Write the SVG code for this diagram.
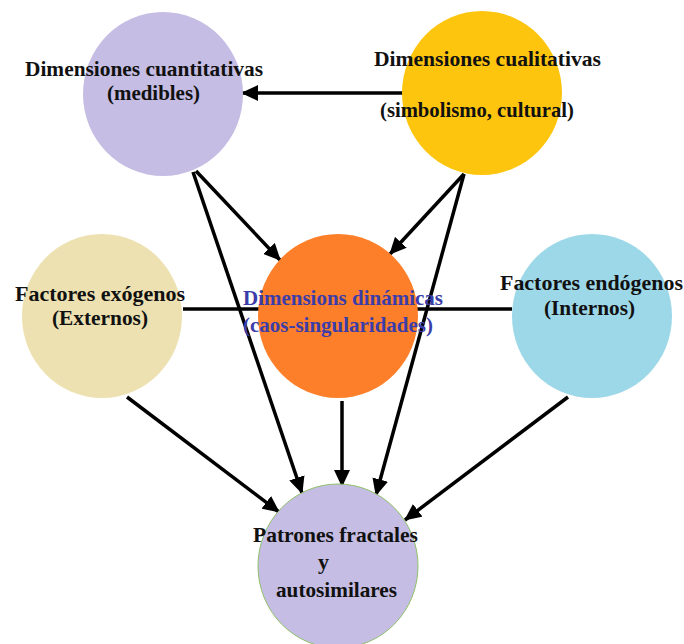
<svg xmlns="http://www.w3.org/2000/svg" width="684" height="644" viewBox="0 0 684 644">
  <style>
    .lbl { font-family: "Liberation Serif", "Times New Roman", serif; font-weight: bold; font-size: 22px; fill: #111; }
    .blue { fill: #3b3da8; }
    .edge { stroke: #000; stroke-width: 3.5; fill: none; }
  </style>
  <defs>
    <marker id="arrow" markerUnits="userSpaceOnUse" markerWidth="18" markerHeight="16" refX="16" refY="8" orient="auto">
      <path d="M0,0 L17,8 L0,16 Z" fill="#000"/>
    </marker>
  </defs>
  <rect width="684" height="644" fill="#fff"/>

  <!-- connectors -->
  <g id="connectors">
    <line class="edge" x1="183" y1="309" x2="512" y2="309"/>
    <line class="edge" x1="403" y1="93" x2="242" y2="93" marker-end="url(#arrow)"/>
    <line class="edge" x1="196" y1="171" x2="280" y2="260" marker-end="url(#arrow)"/>
    <line class="edge" x1="193" y1="172" x2="302" y2="493" marker-end="url(#arrow)"/>
    <line class="edge" x1="464" y1="174" x2="390" y2="254" marker-end="url(#arrow)"/>
    <line class="edge" x1="464" y1="174" x2="376" y2="495" marker-end="url(#arrow)"/>
    <line class="edge" x1="342" y1="401" x2="342" y2="486" marker-end="url(#arrow)"/>
    <line class="edge" x1="127" y1="397" x2="279" y2="512" marker-end="url(#arrow)"/>
    <line class="edge" x1="568" y1="397" x2="405" y2="520" marker-end="url(#arrow)"/>
  </g>

  <g id="cuantitativas">
    <ellipse cx="163" cy="94" rx="80" ry="82" fill="#c5bde3"/>
    <text class="lbl" x="25" y="76" textLength="238" lengthAdjust="spacingAndGlyphs">Dimensiones cuantitativas</text>
    <text class="lbl" x="107" y="100" textLength="93" lengthAdjust="spacingAndGlyphs">(medibles)</text>
  </g>

  <g id="cualitativas">
    <ellipse cx="482" cy="93" rx="80" ry="82" fill="#fec50f"/>
    <text class="lbl" x="374" y="66" textLength="227" lengthAdjust="spacingAndGlyphs">Dimensiones cualitativas</text>
    <text class="lbl" x="380" y="117" textLength="194" lengthAdjust="spacingAndGlyphs">(simbolismo, cultural)</text>
  </g>

  <g id="exogenos">
    <ellipse cx="102" cy="316" rx="80" ry="82" fill="#ede1b1"/>
    <text class="lbl" x="15" y="301" textLength="170" lengthAdjust="spacingAndGlyphs">Factores exógenos</text>
    <text class="lbl" x="52" y="325" textLength="96" lengthAdjust="spacingAndGlyphs">(Externos)</text>
  </g>

  <g id="dinamicas">
    <ellipse cx="338" cy="316" rx="80" ry="82" fill="#fd7f29"/>
    <text class="lbl blue" x="243" y="305" textLength="200" lengthAdjust="spacingAndGlyphs">Dimensions dinámicas</text>
    <text class="lbl blue" x="243" y="332" textLength="190" lengthAdjust="spacingAndGlyphs">(caos-singularidades)</text>
  </g>

  <g id="endogenos">
    <ellipse cx="592" cy="316" rx="80" ry="82" fill="#9dd8e9"/>
    <text class="lbl" x="500" y="290" textLength="183" lengthAdjust="spacingAndGlyphs">Factores endógenos</text>
    <text class="lbl" x="544" y="315" textLength="91" lengthAdjust="spacingAndGlyphs">(Internos)</text>
  </g>

  <g id="patrones">
    <ellipse cx="338" cy="566" rx="80" ry="82" fill="#c5bde3" stroke="#8fc06a" stroke-width="1"/>
    <text class="lbl" x="253" y="542" textLength="165" lengthAdjust="spacingAndGlyphs">Patrones fractales</text>
    <text class="lbl" x="318" y="569">y</text>
    <text class="lbl" x="276" y="597" textLength="121" lengthAdjust="spacingAndGlyphs">autosimilares</text>
  </g>
</svg>
